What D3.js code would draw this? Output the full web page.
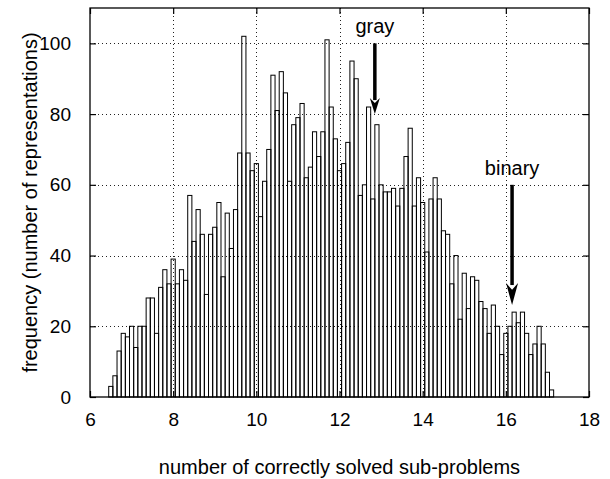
<!DOCTYPE html>
<html>
<head>
<meta charset="utf-8">
<script src="https://cdn.jsdelivr.net/npm/d3@7"></script>
<style>
  body { margin: 0; background: #fff; }
  text { font-family: "Liberation Sans", Arial, Helvetica, sans-serif; fill: #000; }
</style>
</head>
<body>
<script>
// histogram counts, bins 0.1 wide, grouped by the integer part of the bin centre
var binWidth = 0.1;
var counts6  = {whole: 6,  first: 5, values: [3, 6, 13, 18, 17]};
var counts7  = {whole: 7,  first: 0, values: [20, 14, 20, 20, 28, 28, 18, 31, 36, 32]};
var counts8  = {whole: 8,  first: 0, values: [39, 32, 36, 33, 57, 44, 53, 46, 29, 46]};
var counts9  = {whole: 9,  first: 0, values: [48, 55, 34, 52, 42, 53, 69, 102, 69, 64]};
var counts10 = {whole: 10, first: 0, values: [66, 51, 61, 70, 91, 81, 92, 86, 61, 77]};
var counts11 = {whole: 11, first: 0, values: [79, 83, 62, 65, 75, 68, 75, 101, 82, 73]};
var counts12 = {whole: 12, first: 0, values: [64, 66, 72, 95, 90, 57, 60, 82, 56, 77]};
var counts13 = {whole: 13, first: 0, values: [60, 58, 58, 59, 54, 59, 68, 76, 54, 62]};
var counts14 = {whole: 14, first: 0, values: [55, 41, 56, 62, 56, 47, 46, 32, 40, 22]};
var counts15 = {whole: 15, first: 0, values: [35, 25, 34, 33, 27, 25, 18, 26, 20, 12]};
var counts16 = {whole: 16, first: 0, values: [18, 20, 24, 21, 24, 18, 12, 15, 20, 15]};
var counts17 = {whole: 17, first: 0, values: [7, 2]};

var xTicks = [6, 8, 10, 12, 14, 16, 18];
var yTicks = [0, 20, 40, 60, 80, 100];

// the two marked representations
var markers = [
  {label: "gray",   x: 12.85, from: 100, to: 80},
  {label: "binary", x: 16.15, from: 60,  to: 26}
];

var xTitle = "number of correctly solved sub-problems";
var yTitle = "frequency (number of representations)";

var groups = [counts6, counts7, counts8, counts9, counts10, counts11,
              counts12, counts13, counts14, counts15, counts16, counts17];
var bins = [];
groups.forEach(function(g) {
  g.values.forEach(function(v, i) {
    bins.push({center: g.whole + (g.first + i) / 10, count: v});
  });
});

var W = 610, H = 479;
var margin = {top: 8, right: 21, bottom: 82, left: 90};

var svg = d3.select("body").append("svg")
    .attr("width", W)
    .attr("height", H);

var x = d3.scaleLinear().domain([6, 18]).range([margin.left, W - margin.right]);
var y = d3.scaleLinear().domain([0, 110]).range([H - margin.bottom, margin.top]);

// dotted grid
var grid = svg.append("g")
    .attr("stroke", "#222")
    .attr("stroke-width", 1)
    .attr("stroke-dasharray", "1,3");
grid.selectAll("line.gy")
    .data(yTicks.filter(function(d) { return d > 0; }))
  .enter().append("line")
    .attr("x1", x(6)).attr("x2", x(18))
    .attr("y1", function(d) { return Math.round(y(d)) + 0.5; })
    .attr("y2", function(d) { return Math.round(y(d)) + 0.5; });
grid.selectAll("line.gx")
    .data(xTicks.filter(function(d) { return d > 6 && d < 18; }))
  .enter().append("line")
    .attr("y1", y(0)).attr("y2", y(110))
    .attr("x1", function(d) { return Math.round(x(d)) + 0.5; })
    .attr("x2", function(d) { return Math.round(x(d)) + 0.5; });

// bars
svg.append("g").selectAll("rect")
    .data(bins)
  .enter().append("rect")
    .attr("x", function(d) { return x(d.center - binWidth / 2); })
    .attr("width", function(d) { return x(d.center + binWidth / 2) - x(d.center - binWidth / 2); })
    .attr("y", function(d) { return y(d.count); })
    .attr("height", function(d) { return y(0) - y(d.count); })
    .attr("fill", "none")
    .attr("stroke", "#000")
    .attr("stroke-width", 1);

// axes, ticks pointing inward, mirrored on top and right
var tickLen = 6;
var xAxis = d3.axisBottom(x).tickValues(xTicks).tickSize(-tickLen).tickPadding(tickLen + 10);
var yAxis = d3.axisLeft(y).tickValues(yTicks).tickSize(-tickLen).tickPadding(tickLen + 13);

svg.append("g")
    .attr("transform", "translate(0," + y(0) + ")")
    .call(xAxis)
    .call(function(g) {
      g.select(".domain").remove();
      g.selectAll("text").style("font-size", "19px").attr("font-family", null);
    });
svg.append("g")
    .attr("transform", "translate(" + x(6) + ",0)")
    .call(yAxis)
    .call(function(g) {
      g.select(".domain").remove();
      g.selectAll("text").style("font-size", "19px").attr("font-family", null);
    });
svg.append("g")
    .attr("transform", "translate(0," + y(110) + ")")
    .call(d3.axisTop(x).tickValues(xTicks).tickSize(-tickLen).tickFormat(""))
    .call(function(g) { g.select(".domain").remove(); });
svg.append("g")
    .attr("transform", "translate(" + x(18) + ",0)")
    .call(d3.axisRight(y).tickValues(yTicks).tickSize(-tickLen).tickFormat(""))
    .call(function(g) { g.select(".domain").remove(); });

svg.selectAll(".tick line").attr("stroke", "#000").attr("stroke-width", 1.2);

// frame
svg.append("rect")
    .attr("x", x(6)).attr("y", y(110))
    .attr("width", x(18) - x(6))
    .attr("height", y(0) - y(110))
    .attr("fill", "none")
    .attr("stroke", "#000")
    .attr("stroke-width", 1.3);

// axis titles
svg.append("text")
    .attr("x", (x(6) + x(18)) / 2)
    .attr("y", 474)
    .attr("text-anchor", "middle")
    .style("font-size", "20px")
    .text(xTitle);
svg.append("text")
    .attr("transform", "translate(37," + (y(0) + y(110)) / 2 + ") rotate(-90)")
    .attr("text-anchor", "middle")
    .style("font-size", "20px")
    .text(yTitle);

// arrows with labels
var headSize = {gray: [16, 10], binary: [22, 12]};
markers.forEach(function(m) {
  var px = x(m.x), y0 = y(m.from), y1 = y(m.to);
  var hl = headSize[m.label][0], hw = headSize[m.label][1];
  svg.append("line")
      .attr("x1", px).attr("x2", px)
      .attr("y1", y0).attr("y2", y1 - hl + 2)
      .attr("stroke", "#000")
      .attr("stroke-width", 3.5);
  svg.append("path")
      .attr("d", "M" + px + "," + y1 +
                 "L" + (px - hw / 2) + "," + (y1 - hl) +
                 "L" + px + "," + (y1 - hl * 0.7) +
                 "L" + (px + hw / 2) + "," + (y1 - hl) + "Z")
      .attr("fill", "#000");
  svg.append("text")
      .attr("x", px)
      .attr("y", y0 - 10)
      .attr("text-anchor", "middle")
      .style("font-size", "20px")
      .text(m.label);
});
</script>
</body>
</html>
